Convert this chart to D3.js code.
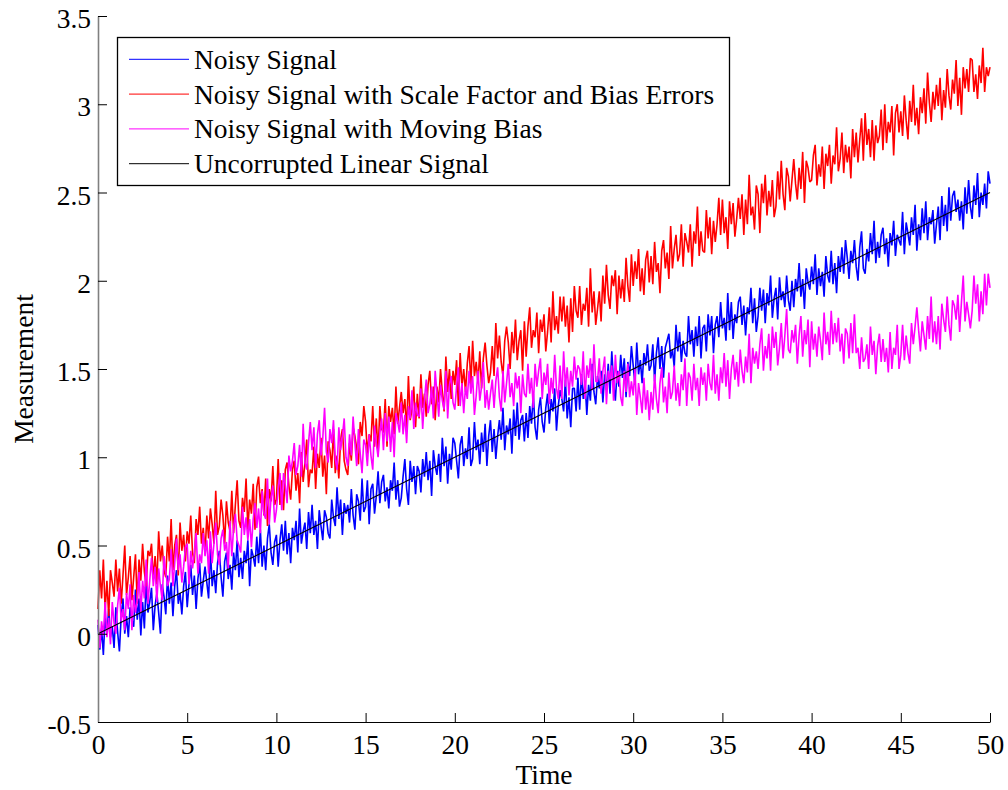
<!DOCTYPE html>
<html>
<head>
<meta charset="utf-8">
<script src="https://cdn.jsdelivr.net/npm/d3@7"></script>
<style>
  html, body { margin: 0; padding: 0; background: #fff; }
  svg { display: block; }
  text { font-family: "Liberation Serif", "Times New Roman", serif; fill: #000; }
</style>
</head>
<body>
<svg id="chart" width="1008" height="790"></svg>
<script>
const timeStep = 0.1;
const xTicks = [0, 5, 10, 15, 20, 25, 30, 35, 40, 45, 50];
const yTicks = [-0.5, 0, 0.5, 1, 1.5, 2, 2.5, 3, 3.5];
const yTickLabels = ["-0.5", "0", "0.5", "1", "1.5", "2", "2.5", "3", "3.5"];
const seriesNames = ["Noisy Signal", "Noisy Signal with Scale Factor and Bias Errors", "Noisy Signal with Moving Bias", "Uncorrupted Linear Signal"];
const seriesColors = ["#0000ff", "#ff0000", "#ff00ff", "#000000"];

const cleanTime = [0, 50];
const cleanSignal = [0, 2.5];

const blueSignal = [
0.05,-0.09,0.03,-0.12,0.10,0.00,0.14,-0.02,0.04,-0.08,
0.15,0.01,-0.10,0.10,0.20,0.00,0.10,-0.02,0.15,0.08,
0.04,0.25,0.08,0.20,-0.01,0.18,0.03,0.30,0.12,0.18,
0.26,0.02,0.16,0.23,0.12,0.00,0.28,0.21,0.11,0.33,
0.17,0.29,0.10,0.27,0.36,0.17,0.23,0.11,0.27,0.35,
0.15,0.28,0.39,0.22,0.33,0.14,0.31,0.40,0.21,0.30,
0.38,0.29,0.20,0.48,0.27,0.36,0.23,0.40,0.47,0.32,
0.21,0.41,0.46,0.31,0.39,0.25,0.46,0.36,0.53,0.32,
0.43,0.31,0.47,0.40,0.53,0.27,0.48,0.44,0.38,0.55,
0.40,0.59,0.38,0.50,0.36,0.54,0.62,0.46,0.39,0.52,
0.56,0.38,0.53,0.62,0.47,0.64,0.45,0.57,0.40,0.60,
0.53,0.64,0.46,0.71,0.51,0.58,0.63,0.48,0.69,0.57,
0.73,0.56,0.64,0.48,0.70,0.61,0.53,0.70,0.66,0.57,
0.54,0.76,0.66,0.61,0.83,0.65,0.76,0.56,0.74,0.68,
0.73,0.63,0.82,0.67,0.59,0.79,0.75,0.64,0.88,0.69,
0.72,0.87,0.62,0.82,0.85,0.68,0.78,0.92,0.74,0.86,
0.90,0.75,0.83,0.71,0.87,0.81,0.97,0.76,0.87,0.72,
0.77,0.89,0.99,0.82,0.73,0.98,0.86,0.95,0.79,0.95,
0.92,0.80,0.99,0.89,1.03,0.87,0.98,0.78,1.04,0.95,
0.90,1.02,0.86,1.11,0.95,1.06,0.85,1.02,0.93,1.11,
1.08,0.98,0.88,1.07,1.12,0.95,1.05,0.99,1.17,0.95,
0.99,1.20,1.04,1.10,0.96,1.14,1.03,1.19,0.95,1.12,
1.21,1.03,1.16,0.99,1.12,1.21,1.10,1.28,1.04,1.18,
1.13,1.22,1.02,1.27,1.12,1.31,1.10,1.21,1.24,1.09,
1.25,1.11,1.29,1.19,1.36,1.17,1.10,1.27,1.34,1.20,
1.14,1.28,1.36,1.19,1.33,1.26,1.39,1.15,1.29,1.38,
1.33,1.26,1.44,1.22,1.34,1.17,1.39,1.39,1.26,1.45,
1.27,1.47,1.33,1.43,1.24,1.41,1.32,1.53,1.37,1.30,
1.46,1.39,1.49,1.31,1.47,1.38,1.53,1.36,1.60,1.42,
1.32,1.49,1.40,1.58,1.45,1.56,1.34,1.54,1.46,1.63,
1.52,1.41,1.65,1.47,1.55,1.42,1.59,1.52,1.64,1.49,
1.52,1.64,1.43,1.59,1.68,1.50,1.63,1.45,1.62,1.66,
1.70,1.56,1.61,1.51,1.75,1.60,1.71,1.54,1.66,1.59,
1.57,1.80,1.64,1.72,1.57,1.74,1.63,1.80,1.56,1.73,
1.75,1.60,1.81,1.69,1.80,1.59,1.75,1.80,1.68,1.88,
1.73,1.79,1.66,1.93,1.72,1.88,1.67,1.81,1.76,1.88,
1.91,1.75,1.86,1.69,1.85,1.81,1.96,1.76,1.90,1.71,
1.80,1.96,1.83,1.95,1.76,1.93,1.86,2.03,1.79,1.90,
1.96,1.78,2.02,1.89,1.94,1.85,2.03,1.89,1.83,2.00,
1.85,2.01,1.94,2.10,1.91,2.01,1.84,2.07,1.99,1.95,
2.08,1.98,2.15,1.92,2.07,1.97,2.05,1.91,2.14,2.03,
1.99,2.17,1.98,2.10,1.93,2.14,2.05,2.19,2.04,2.23,
2.13,2.01,2.17,2.10,2.23,2.08,2.00,2.19,2.28,2.07,
2.04,2.18,2.11,2.27,2.15,2.34,2.10,2.22,2.13,2.26,
2.30,2.15,2.24,2.08,2.27,2.20,2.34,2.14,2.26,2.23,
2.20,2.39,2.15,2.33,2.27,2.20,2.36,2.26,2.43,2.17,
2.32,2.23,2.41,2.27,2.45,2.23,2.36,2.32,2.40,2.21,
2.32,2.42,2.23,2.48,2.31,2.43,2.28,2.53,2.34,2.48,
2.51,2.39,2.46,2.34,2.45,2.29,2.53,2.38,2.57,2.42,
2.35,2.54,2.43,2.61,2.36,2.50,2.43,2.55,2.41,2.62,
2.55
];

const redSignal = [
0.14,0.36,0.20,0.42,0.13,0.30,0.10,0.36,0.29,0.21,
0.42,0.24,0.37,0.17,0.33,0.50,0.22,0.32,0.44,0.19,
0.32,0.45,0.17,0.42,0.30,0.51,0.35,0.27,0.47,0.44,
0.51,0.31,0.44,0.28,0.58,0.41,0.50,0.36,0.32,0.55,
0.41,0.65,0.36,0.50,0.56,0.33,0.63,0.47,0.56,0.41,
0.58,0.51,0.67,0.46,0.40,0.65,0.56,0.72,0.51,0.60,
0.45,0.67,0.54,0.71,0.62,0.51,0.81,0.56,0.61,0.76,
0.67,0.51,0.75,0.63,0.58,0.81,0.57,0.73,0.87,0.64,
0.60,0.77,0.69,0.88,0.59,0.76,0.68,0.85,0.59,0.83,
0.89,0.74,0.82,0.67,0.88,0.61,0.82,0.75,0.95,0.73,
0.76,0.99,0.73,0.87,0.70,0.93,0.97,0.84,0.76,0.93,
0.98,0.81,0.91,0.74,1.03,0.86,0.97,1.10,0.83,0.93,
0.91,1.06,0.82,1.02,0.94,1.11,0.89,1.01,0.79,1.09,
1.04,0.94,1.16,0.91,1.01,0.88,1.10,1.16,0.98,0.93,
0.90,1.08,0.98,1.17,1.12,1.05,0.96,1.20,1.12,1.29,
1.20,1.02,1.13,1.09,1.29,1.06,1.22,1.01,1.29,1.16,
1.14,1.33,1.06,1.29,1.20,1.28,1.13,1.40,1.19,1.28,
1.37,1.25,1.33,1.15,1.46,1.21,1.27,1.40,1.17,1.36,
1.22,1.47,1.28,1.36,1.23,1.41,1.49,1.30,1.40,1.21,
1.40,1.31,1.50,1.37,1.26,1.57,1.37,1.50,1.33,1.49,
1.41,1.55,1.29,1.59,1.40,1.50,1.37,1.53,1.63,1.41,
1.66,1.46,1.54,1.42,1.60,1.39,1.56,1.65,1.52,1.42,
1.48,1.63,1.46,1.76,1.56,1.69,1.54,1.46,1.66,1.74,
1.65,1.50,1.71,1.59,1.78,1.55,1.66,1.72,1.49,1.77,
1.57,1.74,1.85,1.62,1.72,1.68,1.82,1.59,1.78,1.71,
1.81,1.60,1.71,1.85,1.65,1.94,1.72,1.80,1.70,1.91,
1.77,1.91,1.74,1.86,1.65,1.90,1.71,1.97,1.83,1.79,
1.97,1.75,1.87,1.83,1.96,1.74,2.07,1.82,1.94,1.75,
1.84,1.94,1.77,2.03,1.87,2.09,1.92,1.84,2.03,1.97,
2.06,1.81,2.03,1.90,2.01,1.88,2.13,1.97,1.88,2.15,
1.97,2.11,2.01,2.18,1.94,2.07,1.92,2.12,2.17,1.99,
2.14,1.98,2.22,2.05,2.10,1.93,2.17,2.23,2.07,2.16,
2.01,2.31,2.07,2.18,2.26,2.11,2.15,2.32,2.08,2.27,
2.22,2.16,2.32,2.08,2.28,2.21,2.42,2.14,2.28,2.17,
2.16,2.40,2.24,2.36,2.15,2.34,2.22,2.32,2.47,2.26,
2.46,2.27,2.36,2.18,2.45,2.32,2.44,2.25,2.35,2.47,
2.35,2.49,2.26,2.46,2.32,2.60,2.37,2.42,2.29,2.54,
2.49,2.27,2.55,2.44,2.60,2.37,2.51,2.42,2.57,2.36,
2.42,2.62,2.46,2.68,2.49,2.40,2.64,2.59,2.45,2.57,
2.69,2.55,2.46,2.64,2.52,2.73,2.44,2.68,2.64,2.56,
2.57,2.71,2.77,2.54,2.66,2.59,2.76,2.52,2.72,2.65,
2.77,2.55,2.71,2.66,2.87,2.62,2.69,2.84,2.61,2.77,
2.67,2.76,2.58,2.86,2.70,2.84,2.67,2.80,2.92,2.68,
2.95,2.77,2.86,2.70,2.91,2.68,2.88,2.78,2.82,2.97,
2.74,3.00,2.78,2.90,2.84,2.99,2.71,2.95,3.00,2.84,
2.96,2.82,3.05,2.91,2.80,3.02,2.90,3.11,2.88,2.98,
2.83,3.04,2.95,3.09,2.89,3.18,3.01,2.90,3.07,2.97,
3.11,2.99,3.15,2.91,3.08,2.98,3.20,3.05,2.97,3.14,
3.06,3.25,2.99,3.15,2.94,3.21,3.09,3.20,3.07,3.26,
3.25,3.07,3.17,3.03,3.22,3.12,3.32,3.07,3.21,3.16,
3.21
];

const magentaSignal = [
0.08,-0.08,0.07,-0.01,0.18,-0.02,0.09,-0.06,0.18,0.06,
0.00,0.16,0.26,0.07,0.14,0.02,0.23,0.14,0.28,0.02,
0.22,0.12,0.19,0.35,0.12,0.30,0.20,0.42,0.17,0.30,
0.43,0.27,0.38,0.18,0.37,0.27,0.19,0.44,0.35,0.27,
0.31,0.48,0.27,0.40,0.54,0.36,0.45,0.29,0.38,0.49,
0.51,0.28,0.47,0.37,0.46,0.57,0.34,0.45,0.40,0.57,
0.44,0.53,0.34,0.58,0.40,0.51,0.63,0.45,0.39,0.54,
0.59,0.47,0.52,0.37,0.64,0.44,0.60,0.68,0.53,0.50,
0.46,0.72,0.56,0.66,0.53,0.65,0.49,0.65,0.74,0.60,
0.71,0.57,0.81,0.68,0.65,0.88,0.62,0.77,0.84,0.63,
0.70,0.82,0.91,0.70,0.91,0.84,0.74,1.01,0.92,0.98,
1.08,0.90,0.95,1.07,0.89,1.19,0.97,0.93,1.08,1.20,
1.04,1.17,0.94,1.13,1.21,1.01,1.11,1.28,1.03,0.97,
1.16,1.08,1.21,0.99,0.93,1.17,1.04,1.12,1.22,1.00,
0.95,1.13,1.01,1.23,1.08,0.95,1.16,1.02,0.91,1.10,
1.07,0.95,1.13,1.01,0.93,1.18,1.08,1.00,1.14,1.22,
1.04,1.25,1.09,1.23,1.03,1.20,1.00,1.25,1.20,1.14,
1.31,1.13,1.24,1.08,1.29,1.22,1.38,1.16,1.31,1.24,
1.23,1.39,1.16,1.33,1.44,1.25,1.30,1.40,1.22,1.49,
1.36,1.23,1.41,1.32,1.27,1.49,1.22,1.41,1.46,1.31,
1.27,1.40,1.51,1.29,1.42,1.25,1.40,1.33,1.49,1.36,
1.46,1.24,1.35,1.49,1.32,1.40,1.54,1.28,1.38,1.27,
1.36,1.44,1.28,1.43,1.51,1.34,1.26,1.49,1.31,1.42,
1.53,1.34,1.42,1.29,1.48,1.39,1.46,1.25,1.47,1.36,
1.34,1.53,1.36,1.45,1.28,1.53,1.40,1.49,1.56,1.33,
1.48,1.41,1.53,1.30,1.45,1.36,1.58,1.39,1.33,1.52,
1.33,1.60,1.40,1.51,1.35,1.49,1.40,1.57,1.44,1.52,
1.50,1.41,1.60,1.33,1.52,1.45,1.56,1.38,1.64,1.43,
1.43,1.56,1.36,1.49,1.57,1.30,1.49,1.44,1.52,1.32,
1.58,1.42,1.49,1.34,1.29,1.49,1.37,1.53,1.34,1.43,
1.35,1.50,1.24,1.42,1.34,1.25,1.45,1.27,1.38,1.21,
1.37,1.27,1.47,1.33,1.25,1.42,1.51,1.31,1.40,1.25,
1.48,1.33,1.37,1.52,1.32,1.42,1.29,1.47,1.38,1.56,
1.29,1.48,1.45,1.32,1.53,1.38,1.45,1.29,1.51,1.41,
1.48,1.32,1.53,1.42,1.38,1.58,1.36,1.47,1.32,1.51,
1.42,1.59,1.40,1.55,1.33,1.50,1.58,1.44,1.54,1.40,
1.61,1.49,1.42,1.57,1.48,1.70,1.42,1.62,1.53,1.60,
1.50,1.64,1.73,1.49,1.63,1.56,1.70,1.49,1.74,1.62,
1.71,1.52,1.62,1.76,1.56,1.69,1.84,1.61,1.59,1.72,
1.65,1.75,1.53,1.69,1.80,1.57,1.72,1.64,1.78,1.51,
1.77,1.61,1.70,1.57,1.74,1.66,1.55,1.82,1.64,1.71,
1.58,1.83,1.64,1.76,1.65,1.79,1.60,1.70,1.53,1.73,
1.70,1.56,1.76,1.59,1.81,1.59,1.62,1.50,1.68,1.54,
1.56,1.64,1.50,1.74,1.58,1.66,1.47,1.63,1.70,1.54,
1.67,1.54,1.62,1.48,1.71,1.50,1.62,1.58,1.75,1.50,
1.58,1.75,1.55,1.69,1.59,1.53,1.76,1.64,1.74,1.85,
1.72,1.60,1.77,1.69,1.61,1.80,1.67,1.91,1.65,1.77,
1.64,1.80,1.61,1.87,1.78,1.71,1.91,1.75,1.66,1.89,
1.86,1.78,1.92,1.71,1.88,2.03,1.77,1.88,1.81,1.73,
1.83,2.03,1.87,1.98,1.77,1.94,1.81,2.04,1.86,2.04,
1.96
];

// ---- Drawing ----
const svg = d3.select("#chart");
const W = 1008, H = 790;
const plot = { left: 98, right: 990, top: 16, bottom: 722 };
const x = d3.scaleLinear().domain([0, 50]).range([plot.left, plot.right]);
const y = d3.scaleLinear().domain([-0.5, 3.5]).range([plot.bottom, plot.top]);

svg.append("rect").attr("width", W).attr("height", H).attr("fill", "#fff");

const toPoints = (vals) => vals.map((v, i) => [i * timeStep, v]);
const line = d3.line().x(d => x(d[0])).y(d => y(d[1]));

const seriesData = [
  toPoints(blueSignal),
  toPoints(redSignal),
  toPoints(magentaSignal),
  cleanTime.map((t, i) => [t, cleanSignal[i]])
];
const seriesWidths = [1.6, 1.6, 1.6, 1.1];

const gLines = svg.append("g");
seriesData.forEach((pts, k) => {
  gLines.append("path")
    .datum(pts)
    .attr("fill", "none")
    .attr("stroke", seriesColors[k])
    .attr("stroke-width", seriesWidths[k])
    .attr("stroke-linejoin", "bevel")
    .attr("d", line);
});

// Axes
const fontSize = 27.5;
const xAxis = d3.axisBottom(x).tickValues(xTicks).tickFormat(d3.format("d"))
  .tickSizeInner(-9).tickSizeOuter(0).tickPadding(12);
const gx = svg.append("g").attr("transform", `translate(0,${plot.bottom})`).call(xAxis);
gx.select(".domain").attr("stroke", "#000").attr("stroke-width", 1.2);
gx.selectAll(".tick line").attr("stroke", "#000");
gx.selectAll(".tick text").attr("font-size", fontSize).attr("font-family", "Liberation Serif");

const yAxis = d3.axisLeft(y).tickValues(yTicks).tickFormat((d, i) => yTickLabels[i])
  .tickSizeInner(-9).tickSizeOuter(0).tickPadding(7);
const gy = svg.append("g").attr("transform", `translate(${plot.left},0)`).call(yAxis);
gy.select(".domain").attr("stroke", "#808080").attr("stroke-width", 1.6);
gy.selectAll(".tick line").attr("stroke", "#000");
gy.selectAll(".tick text").attr("font-size", fontSize).attr("font-family", "Liberation Serif").attr("dy", "0.42em");

// Axis titles
svg.append("text").attr("x", (plot.left + plot.right) / 2).attr("y", 784)
  .attr("text-anchor", "middle").attr("font-size", fontSize).text("Time");
svg.append("text").attr("transform", `translate(33,${(plot.top + plot.bottom) / 2}) rotate(-90)`)
  .attr("text-anchor", "middle").attr("font-size", fontSize).text("Measurement");

// Legend
const leg = svg.append("g");
leg.append("rect").attr("x", 117.5).attr("y", 37.5).attr("width", 612).attr("height", 148)
  .attr("fill", "#fff").attr("stroke", "#000").attr("stroke-width", 1.3);
seriesNames.forEach((name, i) => {
  const ry = 59.3 + i * 34.8;
  leg.append("line").attr("x1", 129).attr("x2", 189).attr("y1", ry).attr("y2", ry)
    .attr("stroke", seriesColors[i]).attr("stroke-width", 1);
  leg.append("text").attr("x", 194).attr("y", ry + 9.5).attr("font-size", fontSize).text(name);
});
</script>
</body>
</html>
